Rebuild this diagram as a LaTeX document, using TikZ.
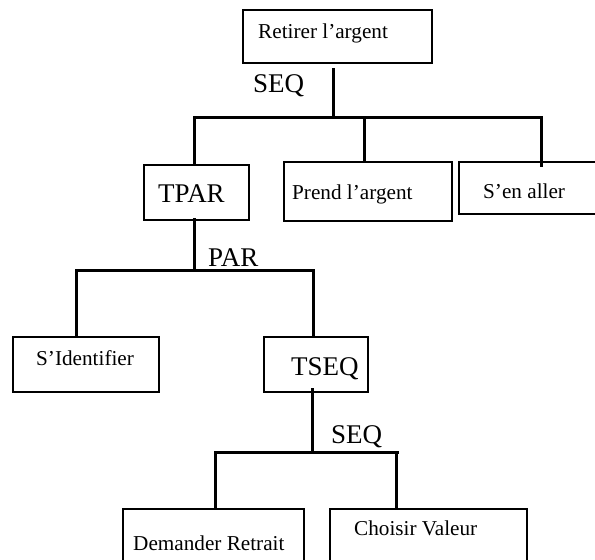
\documentclass[tikz,border=0pt]{standalone}
\usepackage{fontspec}
\setmainfont{Liberation Serif}
\begin{document}
\begin{tikzpicture}[x=1pt,y=-1pt,
  box/.style={draw, line width=2.4pt, inner sep=0pt},
  wire/.style={line width=3pt},
  lbl/.style={anchor=base west, inner sep=0pt, font=\fontsize{21.2}{25}\selectfont},
  op/.style={anchor=base west, inner sep=0pt, font=\fontsize{27}{31}\selectfont}]
\useasboundingbox (0,0) rectangle (595,560);
\clip (0,0) rectangle (595,560);

% task boxes
\node[box, minimum width=189, minimum height=53] (root)  at (337.5,36.5) {};
\node[box, minimum width=105, minimum height=55] (tpar)  at (196.5,192.5) {};
\node[box, minimum width=168, minimum height=59] (prend) at (368,191.5) {};
\node[box, minimum width=141, minimum height=52] (sen)   at (529.5,188) {};
\node[box, minimum width=146, minimum height=55] (ident) at (86,364.5) {};
\node[box, minimum width=104, minimum height=55] (tseq)  at (316,364.5) {};
\node[box, minimum width=181, minimum height=61] (dem)   at (213.5,539.5) {};
\node[box, minimum width=197, minimum height=61] (choi)  at (428.5,539.5) {};

% box texts
\node[lbl] (troot)  at (258,38)  {Retirer l’argent};
\node[op]  (ttpar)  at (158,202) {TPAR};
\node[lbl] (tprend) at (292,199) {Prend l’argent};
\node[lbl] (tsen)   at (483,198) {S’en aller};
\node[lbl] (tident) at (36,365.5) {S’Identifier};
\node[op]  (ttseq)  at (291,375) {TSEQ};
\node[lbl] (tdem)   at (133,550) {Demander Retrait};
\node[lbl] (tchoi)  at (354,535) {Choisir Valeur};

% operator labels
\node[op] (seqA) at (253,92)  {SEQ};
\node[op] (parB) at (208,266.5) {PAR};
\node[op] (seqC) at (331,443) {SEQ};

% first level: SEQ
\coordinate (s1) at (333,68);
\coordinate (b1) at (333,117);
\coordinate (b1l) at (193,117);
\coordinate (b1r) at (543,117);
\draw[wire] (s1) -- (b1);
\draw[wire] (b1l) -- (b1r);
\draw[wire] (194,117) -- (194,0 |- tpar.north);
\draw[wire] (364,117) -- (364,0 |- prend.north);
\draw[wire] (541,117) -- ([yshift=-6]541,0 |- sen.north);

% second level: PAR
\coordinate (s2) at ([yshift=3]194,0 |- tpar.south);
\coordinate (b2) at (194,270);
\coordinate (b2l) at (75,270);
\coordinate (b2r) at (315,270);
\draw[wire] (s2) -- (b2);
\draw[wire] (b2l) -- (b2r);
\draw[wire] (76,270) -- (76,0 |- ident.north);
\draw[wire] (313,270) -- (313,0 |- tseq.north);

% third level: SEQ
\coordinate (s3) at ([yshift=5]312,0 |- tseq.south);
\coordinate (b3) at (312,452);
\coordinate (b3l) at (214,452);
\coordinate (b3r) at (399,452);
\draw[wire] (s3) -- (b3);
\draw[wire] (b3l) -- (b3r);
\draw[wire] (215,452) -- (215,0 |- dem.north);
\draw[wire] (396,452) -- (396,0 |- choi.north);
\end{tikzpicture}
\end{document}
